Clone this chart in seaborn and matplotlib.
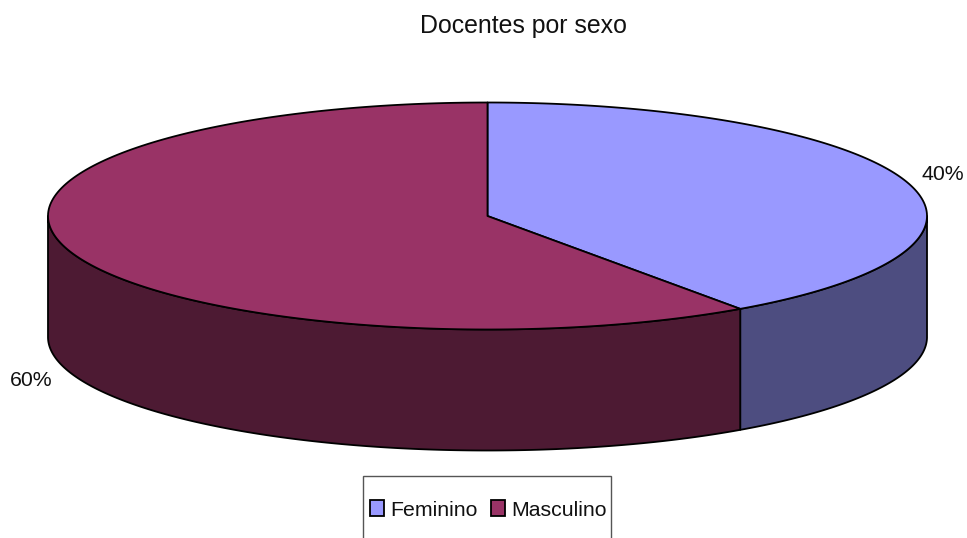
import numpy as np
import matplotlib
matplotlib.use("Agg")
import matplotlib.pyplot as plt
import seaborn as sns
from matplotlib.patches import Patch, Rectangle

# data
categories = ["Feminino", "Masculino"]
values = [40.25, 59.75]
title = "Docentes por sexo"
top_colors = ["#9999FF", "#993366"]
side_colors = ["#4D4D80", "#4D1A33"]

# disc geometry, in pixels of the picture
CX, CY = 487.5, 216
RX, RY = 439.5, 113.5
DEPTH = 121


def rim(start, end, drop=0):
    # points of the ellipse, angles clockwise from 12 o'clock
    t = np.radians(np.linspace(start, end, 200))
    return CX + RX * np.sin(t), CY - RY * np.cos(t) + drop


sns.set_theme(style="white")
plt.rcParams["font.family"] = ["Liberation Sans", "DejaVu Sans"]

fig = plt.figure(figsize=(9.67, 5.38), dpi=100)
ax = fig.add_axes([0, 0, 1, 1])
ax.set_xlim(0, 967)
ax.set_ylim(538, 0)
ax.axis("off")

angles = np.cumsum([0] + values) / sum(values) * 360

# side wall, only the front half of the disc shows
for i in range(len(values)):
    start = max(angles[i], 90)
    end = min(angles[i + 1], 270)
    if start >= end:
        continue
    x1, y1 = rim(start, end)
    x2, y2 = rim(end, start, DEPTH)
    ax.fill(np.r_[x1, x2], np.r_[y1, y2], facecolor=side_colors[i],
            edgecolor="black", lw=1.3, joinstyle="round")

# top face
for i in range(len(values)):
    x, y = rim(angles[i], angles[i + 1])
    ax.fill(np.r_[CX, x], np.r_[CY, y], facecolor=top_colors[i],
            edgecolor="black", lw=1.3, joinstyle="round")

# labels
ax.text(942.5, 174, f"{values[0]:.0f}%", ha="center", va="center", fontsize=15.3, color="#111111")
ax.text(31, 380, f"{values[1]:.0f}%", ha="center", va="center", fontsize=15.3, color="#111111")
ax.text(523.5, 26, title, ha="center", va="center", fontsize=17.9, color="#111111")

# legend box runs off the bottom of the picture
ax.add_patch(Rectangle((363, 476), 248, 80, facecolor="white", edgecolor="#555555", lw=1))
handles = [Patch(facecolor=c, edgecolor="black", lw=1.3) for c in top_colors]
ax.legend(handles, categories, frameon=False, ncol=2, loc="center",
          bbox_to_anchor=(488.5 / 967, 1 - 510 / 538), fontsize=15.3,
          handlelength=0.66, handleheight=0.75, handletextpad=0.27,
          columnspacing=0.66, labelcolor="#111111")

fig.savefig("out.png", dpi=100)
